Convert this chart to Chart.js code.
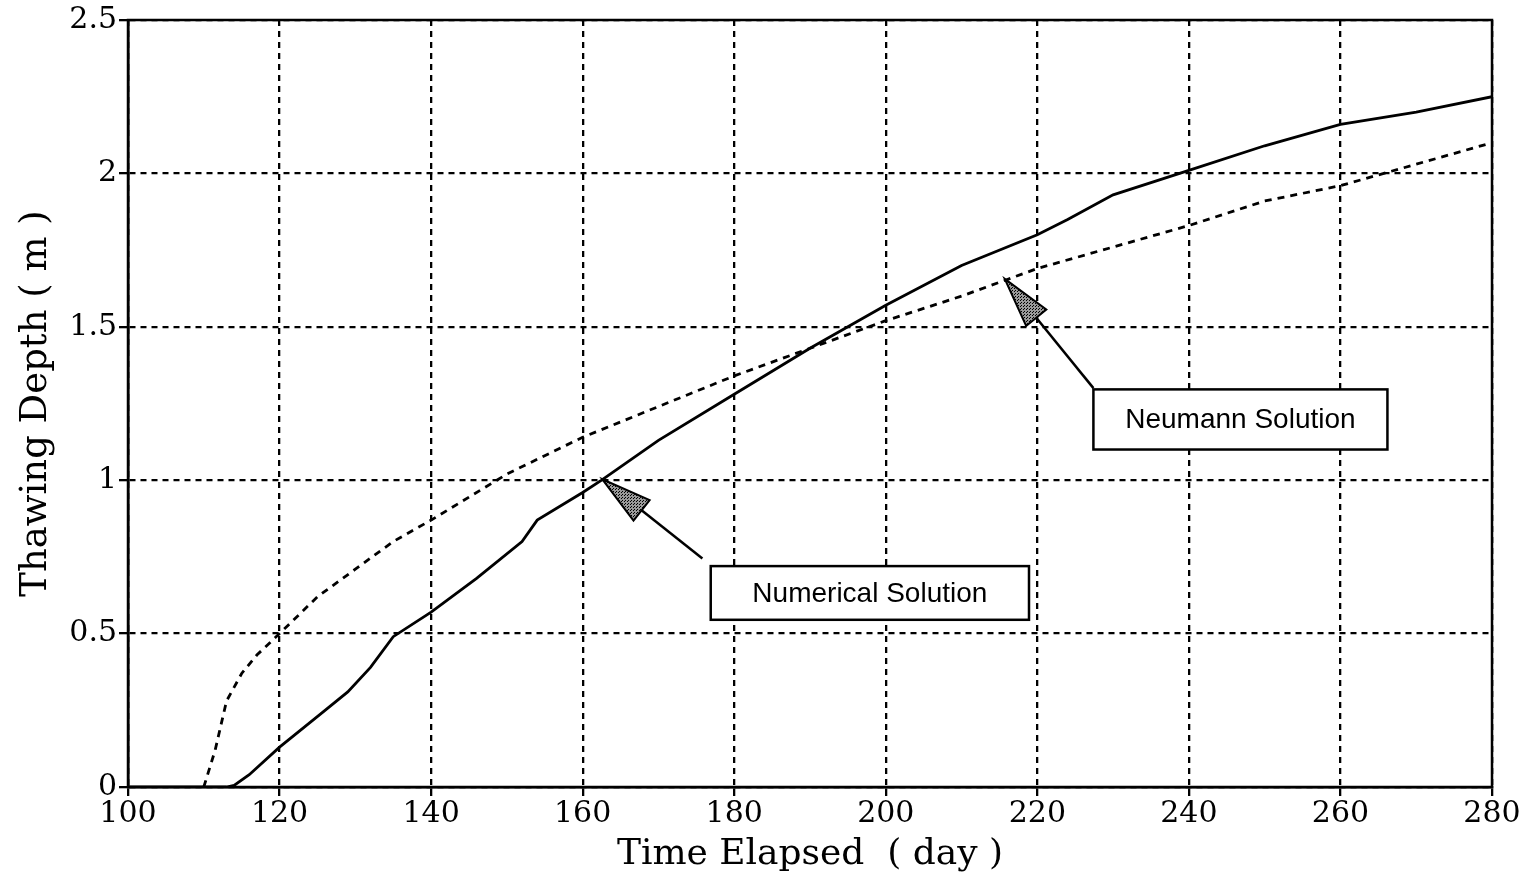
<!DOCTYPE html>
<html>
<head>
<meta charset="utf-8">
<script src="https://cdn.jsdelivr.net/npm/chart.js@4/dist/chart.umd.min.js"></script>
<style>
  html, body { margin: 0; padding: 0; background: #fff; }
  #wrap { width: 1529px; height: 878px; }
</style>
</head>
<body>
<div id="wrap"><canvas id="thawChart" width="1529" height="878"></canvas></div>
<script>
// values (day, thawing depth in m)
const numericalDays = [100, 113, 114, 116, 120, 124, 126, 129, 132, 135, 140, 146, 152, 154, 160, 162.5, 170, 180, 190, 200, 210, 220, 224, 230, 240, 250, 260, 270, 280];
const numericalDepth = [0, 0, 0.005, 0.04, 0.13, 0.21, 0.25, 0.31, 0.39, 0.49, 0.57, 0.68, 0.80, 0.87, 0.96, 1.0, 1.13, 1.28, 1.43, 1.57, 1.70, 1.80, 1.85, 1.93, 2.01, 2.09, 2.16, 2.20, 2.25];

const neumannDays = [110, 111.5, 113, 115, 117, 120, 125, 130, 135, 140, 150, 160, 170, 180, 190, 200, 210, 220, 230, 240, 250, 260, 270, 280];
const neumannDepth = [0, 0.12, 0.28, 0.37, 0.43, 0.50, 0.62, 0.71, 0.80, 0.87, 1.02, 1.14, 1.24, 1.34, 1.43, 1.52, 1.60, 1.69, 1.76, 1.83, 1.91, 1.96, 2.03, 2.10];

const xTicks = [100, 120, 140, 160, 180, 200, 220, 240, 260, 280];
const yTicks = [0, 0.5, 1, 1.5, 2, 2.5];

// callout labels: text, box corners (data coords), arrow tip and arrow start
const callouts = [
  { text: 'Numerical Solution', box: [176.9, 0.72, 218.9, 0.545], tip: [162.6, 1.003], from: [175.8, 0.745] },
  { text: 'Neumann Solution', box: [227.4, 1.296, 266.2, 1.10], tip: [215.7, 1.656], from: [227.4, 1.30] }
];

const serif = '"DejaVu Serif", "Liberation Serif", serif';

function toPoints(xs, ys) {
  return xs.map((x, i) => ({ x: x, y: ys[i] }));
}

// dotted grey fill for the arrow heads
function stipple(ctx) {
  const c = document.createElement('canvas');
  c.width = 3; c.height = 3;
  const p = c.getContext('2d');
  p.fillStyle = '#999';
  p.fillRect(0, 0, 3, 3);
  p.fillStyle = '#000';
  p.fillRect(0, 0, 1, 1);
  p.fillRect(1, 2, 1, 1);
  return ctx.createPattern(c, 'repeat');
}

const framePlugin = {
  id: 'frame',
  afterDatasetsDraw(chart) {
    const { ctx, chartArea: a, scales } = chart;
    ctx.save();
    ctx.strokeStyle = '#000';
    ctx.lineWidth = 2.5;
    ctx.setLineDash([]);
    ctx.strokeRect(a.left, a.top, a.right - a.left, a.bottom - a.top);

    callouts.forEach(c => {
      const x = v => scales.x.getPixelForValue(v);
      const y = v => scales.y.getPixelForValue(v);
      const tx = x(c.tip[0]), ty = y(c.tip[1]);
      const fx = x(c.from[0]), fy = y(c.from[1]);
      const ang = Math.atan2(fy - ty, fx - tx);
      const len = 50, half = 13;
      const bx = tx + Math.cos(ang) * len, by = ty + Math.sin(ang) * len;
      const nx = -Math.sin(ang) * half, ny = Math.cos(ang) * half;

      ctx.lineWidth = 2.5;
      ctx.beginPath();
      ctx.moveTo(fx, fy);
      ctx.lineTo(bx, by);
      ctx.stroke();

      ctx.beginPath();
      ctx.moveTo(tx, ty);
      ctx.lineTo(bx + nx, by + ny);
      ctx.lineTo(bx - nx, by - ny);
      ctx.closePath();
      ctx.fillStyle = stipple(ctx);
      ctx.fill();
      ctx.lineWidth = 2;
      ctx.stroke();

      const x0 = x(c.box[0]), y0 = y(c.box[1]), x1 = x(c.box[2]), y1 = y(c.box[3]);
      ctx.fillStyle = '#fff';
      ctx.fillRect(x0, y0, x1 - x0, y1 - y0);
      ctx.lineWidth = 2.5;
      ctx.strokeRect(x0, y0, x1 - x0, y1 - y0);
      ctx.fillStyle = '#000';
      ctx.font = '28px "Liberation Sans", Arial, sans-serif';
      ctx.textAlign = 'center';
      ctx.textBaseline = 'middle';
      ctx.fillText(c.text, (x0 + x1) / 2, (y0 + y1) / 2 + 1);
    });
    ctx.restore();
  }
};

const gridOpts = {
  color: '#000',
  lineWidth: 2.3,
  tickBorderDash: [],
  tickLength: 9,
  tickWidth: 2.3
};
const borderOpts = { display: true, color: '#000', width: 2.5, dash: [6, 5] };

new Chart(document.getElementById('thawChart'), {
  type: 'line',
  data: {
    datasets: [
      {
        label: 'Numerical Solution',
        data: toPoints(numericalDays, numericalDepth),
        borderColor: '#000',
        borderWidth: 2.8,
        pointRadius: 0,
        tension: 0,
        fill: false
      },
      {
        label: 'Neumann Solution',
        data: toPoints(neumannDays, neumannDepth),
        borderColor: '#000',
        borderWidth: 2.8,
        borderDash: [7, 6],
        pointRadius: 0,
        tension: 0,
        fill: false
      }
    ]
  },
  options: {
    responsive: false,
    animation: false,
    events: [],
    layout: { padding: { top: 17, right: 37, left: 0, bottom: 0 } },
    plugins: {
      legend: { display: false },
      tooltip: { enabled: false }
    },
    scales: {
      x: {
        type: 'linear',
        min: 100,
        max: 280,
        afterBuildTicks: s => { s.ticks = xTicks.map(v => ({ value: v })); },
        afterFit: s => { s.height = 91; },
        grid: gridOpts,
        border: borderOpts,
        ticks: {
          color: '#000',
          font: { family: serif, size: 30 },
          padding: 0,
          maxRotation: 0
        },
        title: {
          display: true,
          text: 'Time Elapsed  ( day )',
          color: '#000',
          font: { family: serif, size: 36 },
          padding: { top: 0, bottom: 2 }
        }
      },
      y: {
        type: 'linear',
        min: 0,
        max: 2.5,
        afterBuildTicks: s => { s.ticks = yTicks.map(v => ({ value: v })); },
        afterFit: s => { s.width = 128; },
        grid: gridOpts,
        border: borderOpts,
        ticks: {
          color: '#000',
          font: { family: serif, size: 30 },
          padding: 2,
          callback: v => String(v)
        },
        title: {
          display: true,
          text: 'Thawing Depth ( m )',
          color: '#000',
          font: { family: serif, size: 37 },
          padding: { top: 14, bottom: 0 }
        }
      }
    }
  },
  plugins: [framePlugin]
});
</script>
</body>
</html>
